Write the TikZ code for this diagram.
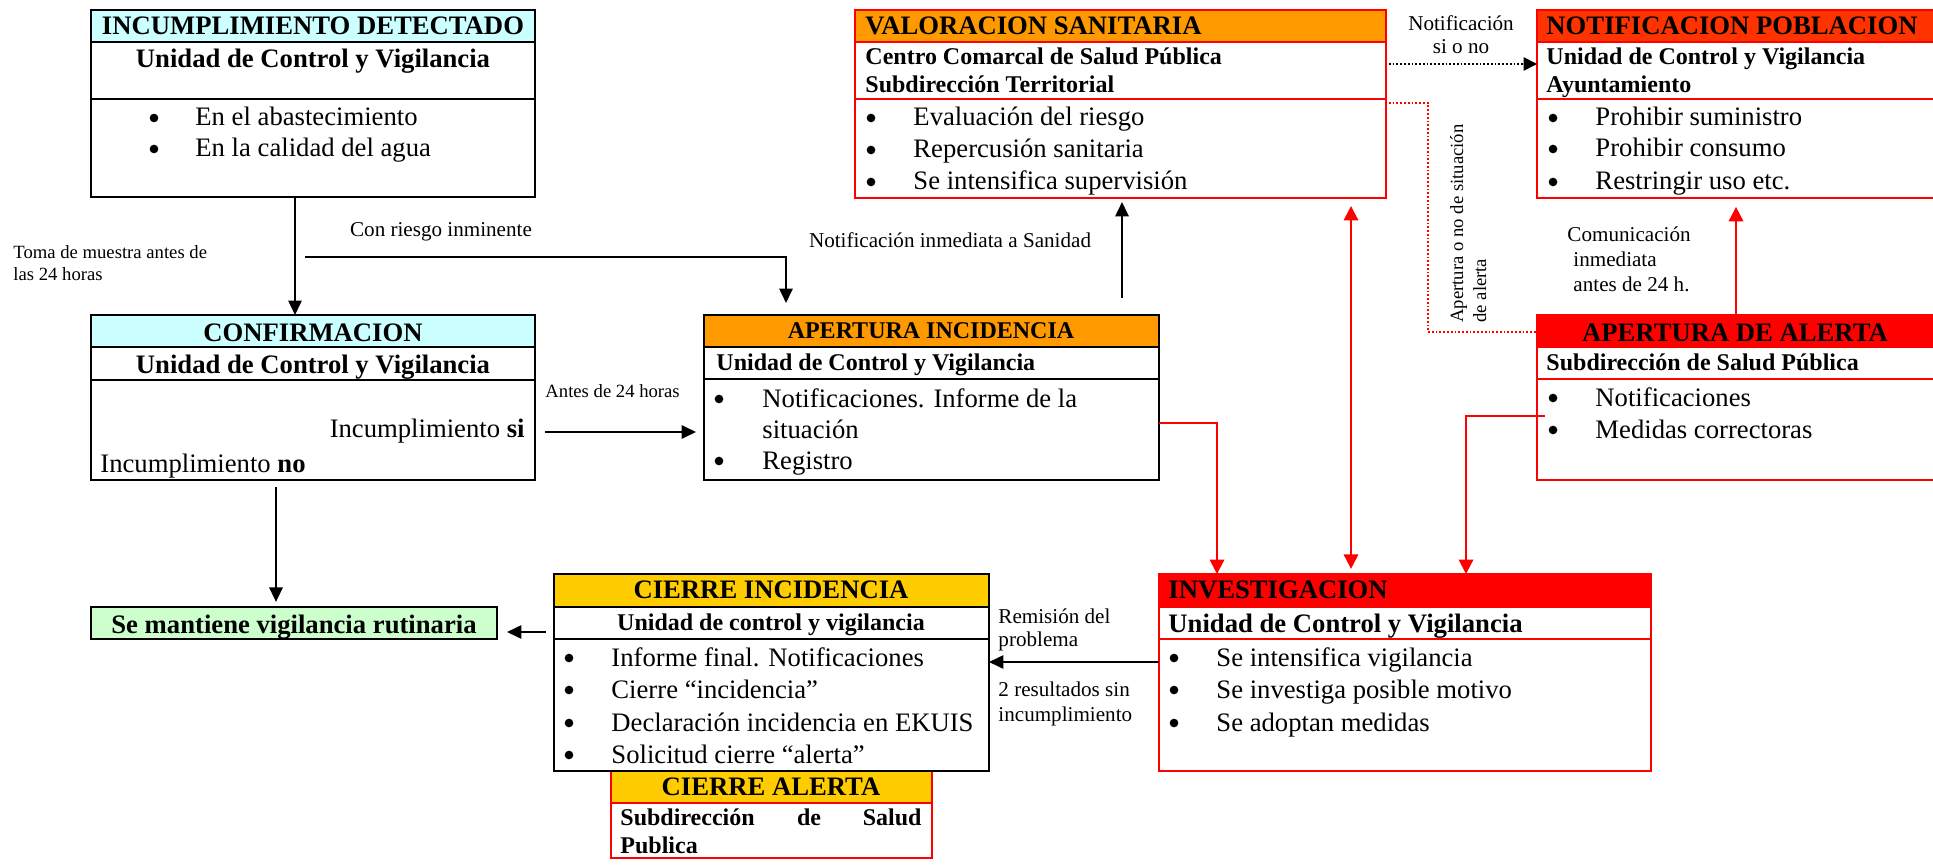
\documentclass[tikz,border=0pt]{standalone}
\usepackage{fontspec}
\setmainfont{Liberation Serif}
\usetikzlibrary{arrows.meta,fit}
\definecolor{hcyan}{RGB}{204,255,255}
\definecolor{hgreen}{RGB}{204,255,204}
\definecolor{horange}{RGB}{255,153,0}
\definecolor{hredor}{RGB}{255,51,0}
\definecolor{hred}{RGB}{255,0,0}
\definecolor{hyellow}{RGB}{255,204,0}
\newcommand{\bulitem}[5]{%
  \node[bulsty] (#1d) at (#2,#4-8) {};
  \node[body,anchor=base west] (#1) at (#3,#4) {#5};}
\begin{document}
\begin{tikzpicture}[x=0.45pt,y=-0.45pt,
  bl/.style={draw=black,line width=1.1pt},
  rl/.style={draw=hred,line width=1pt},
  bbox/.style={draw=black,line width=1.1pt,inner sep=0pt,outer sep=0pt},
  rbox/.style={draw=hred,line width=1pt,inner sep=0pt,outer sep=0pt},
  hd/.style={font=\fontsize{12}{14}\selectfont\bfseries,inner sep=0pt,anchor=base},
  hds/.style={font=\fontsize{10.8}{13}\selectfont\bfseries,inner sep=0pt,anchor=base},
  body/.style={font=\fontsize{12}{14}\selectfont,inner sep=0pt},
  bulsty/.style={circle,fill=black,inner sep=0pt,minimum size=3.9pt},
  lab/.style={font=\fontsize{9.5}{11}\selectfont,inner sep=0pt},
  labs/.style={font=\fontsize{8.4}{10}\selectfont,inner sep=0pt},
  arr/.style={draw=black,line width=0.9pt,-{Triangle[length=6.5pt,width=6pt]}},
  rarr/.style={draw=hred,line width=0.9pt,-{Triangle[length=6.5pt,width=6.5pt]}},
  dotarr/.style={draw=black,line width=0.7pt,dash pattern=on 0.8pt off 0.9pt,-{Triangle[length=6pt,width=6pt]}},
  reddot/.style={draw=hred,line width=0.7pt,dash pattern=on 0.8pt off 0.9pt}]
\fill[white] (0,0) rectangle (1933,865);
\useasboundingbox (0,0) rectangle (1933,865);
\clip (0,0) rectangle (1933,865);

% ---------- INCUMPLIMIENTO DETECTADO
\fill[hcyan] (91,10) rectangle (535,42);
\draw[bl] (91,42) -- (535,42) (91,99) -- (535,99);
\node[bbox,fit={(91,10) (535,197)}] (inc) {};
\node[hd] (inct) at (313,35) {INCUMPLIMIENTO DETECTADO};
\node[hd] (incs) at (313,68) {Unidad de Control y Vigilancia};
\bulitem{inca}{154}{195}{126}{En el abastecimiento}
\bulitem{incb}{154}{195}{157}{En la calidad del agua}

% ---------- CONFIRMACION
\fill[hcyan] (91,315) rectangle (535,347);
\draw[bl] (91,347) -- (535,347) (91,380) -- (535,380);
\node[bbox,fit={(91,315) (535,480)}] (conf) {};
\node[hd] (conft) at (313,342) {CONFIRMACION};
\node[hd] (confs) at (313,373) {Unidad de Control y Vigilancia};
\node[body,anchor=base east] (csi) at (525,437) {Incumplimiento \textbf{si}};
\node[body,anchor=base west] (cno) at (100,472) {Incumplimiento \textbf{no}};

% ---------- Se mantiene
\fill[hgreen] (91,607) rectangle (497,639);
\node[bbox,fit={(91,607) (497,639)}] (mant) {};
\node[hd] (mantt) at (294,633) {Se mantiene vigilancia rutinaria};

% ---------- APERTURA INCIDENCIA
\fill[horange] (704,315) rectangle (1159,347);
\draw[bl] (704,347) -- (1159,347) (704,379) -- (1159,379);
\node[bbox,fit={(704,315) (1159,480)}] (ai) {};
\node[hds] (ait) at (931,338) {APERTURA INCIDENCIA};
\node[hds,anchor=base west] (ais) at (716,370) {Unidad de Control y Vigilancia};
\bulitem{aia}{719}{762}{407}{Notificaciones. Informe de la}
\node[body,anchor=base west] (aia2) at (762,438) {situación};
\bulitem{aib}{719}{762}{469}{Registro}

% ---------- VALORACION SANITARIA
\fill[horange] (855,10) rectangle (1386,42);
\draw[rl] (855,42) -- (1386,42) (855,99) -- (1386,99);
\node[rbox,fit={(855,10) (1386,198)}] (vs) {};
\node[hd,anchor=base west] (vst) at (865,35) {VALORACION SANITARIA};
\node[hds,anchor=base west] (vss1) at (865,65) {Centro Comarcal de Salud Pública};
\node[hds,anchor=base west] (vss2) at (865,93) {Subdirección Territorial};
\bulitem{vsa}{871}{913}{126}{Evaluación del riesgo}
\bulitem{vsb}{871}{913}{158}{Repercusión sanitaria}
\bulitem{vsc}{871}{913}{190}{Se intensifica supervisión}

% ---------- NOTIFICACION POBLACION
\fill[hredor] (1537,10) rectangle (1945,42);
\draw[rl] (1537,42) -- (1945,42) (1537,99) -- (1945,99);
\node[rbox,fit={(1537,10) (1945,198)}] (notif) {};
\node[hd,anchor=base west] (nott) at (1546,35) {NOTIFICACION POBLACION};
\node[hds,anchor=base west] (nots1) at (1546,65) {Unidad de Control y Vigilancia};
\node[hds,anchor=base west] (nots2) at (1546,93) {Ayuntamiento};
\bulitem{nota}{1553}{1595}{126}{Prohibir suministro}
\bulitem{notb}{1553}{1595}{157}{Prohibir consumo}
\bulitem{notc}{1553}{1595}{190}{Restringir uso etc.}

% ---------- APERTURA DE ALERTA
\fill[hred] (1537,315) rectangle (1945,347);
\draw[rl] (1537,347) -- (1945,347) (1537,379) -- (1945,379);
\node[rbox,fit={(1537,315) (1945,480)}] (aa) {};
\node[hd] (aat) at (1735,342) {APERTURA DE ALERTA};
\node[hds,anchor=base west] (aas) at (1546,370) {Subdirección de Salud Pública};
\bulitem{aaa}{1553}{1595}{406}{Notificaciones}
\bulitem{aab}{1553}{1595}{438}{Medidas correctoras}

% ---------- INVESTIGACION
\fill[hred] (1159,574) rectangle (1651,607);
\draw[rl] (1159,607) -- (1651,607) (1159,639) -- (1651,639);
\node[rbox,fit={(1159,574) (1651,771)}] (inv) {};
\node[hd,anchor=base west] (invt) at (1168,598) {INVESTIGACION};
\node[hd,anchor=base west] (invs) at (1168,632) {Unidad de Control y Vigilancia};
\bulitem{inva}{1174}{1216}{666}{Se intensifica vigilancia}
\bulitem{invb}{1174}{1216}{698}{Se investiga posible motivo}
\bulitem{invc}{1174}{1216}{731}{Se adoptan medidas}

% ---------- CIERRE ALERTA
\fill[hyellow] (611,771) rectangle (932,803);
\draw[rl] (611,803) -- (932,803);
\node[rbox,fit={(611,771) (932,858)}] (ca) {};
\node[hd] (cat) at (771,795) {CIERRE ALERTA};
\node[hds,anchor=base west] (cas1) at (620,825) {Subdirección};
\node[hds] (cas2) at (809,825) {de};
\node[hds,anchor=base east] (cas3) at (922,825) {Salud};
\node[hds,anchor=base west] (cas4) at (620,853) {Publica};

% ---------- CIERRE INCIDENCIA
\fill[hyellow] (554,574) rectangle (989,607);
\draw[bl] (554,607) -- (989,607) (554,639) -- (989,639);
\node[bbox,fit={(554,574) (989,771)}] (ci) {};
\node[hd] (cit) at (771,598) {CIERRE INCIDENCIA};
\node[hds] (cis) at (771,630) {Unidad de control y vigilancia};
\bulitem{cia}{569}{611}{666}{Informe final. Notificaciones}
\bulitem{cib}{569}{611}{698}{Cierre “incidencia”}
\bulitem{cic}{569}{611}{731}{Declaración incidencia en EKUIS}
\bulitem{cid}{569}{611}{763}{Solicitud cierre “alerta”}

% ---------- connectors
\coordinate (rs) at (305,257);
\coordinate (dk1) at (1428,103);
\coordinate (dk2) at (1428,332);
\draw[arr] (inc.south -| 295,0) -- (conf.north -| 295,0);
\draw[arr,shorten >=5.4pt] (rs) -| (ai.north -| 786,0);
\draw[arr,shorten <=4.5pt,shorten >=3.6pt] (conf.east |- 0,432) -- (ai.west |- 0,432);
\draw[arr,shorten <=3.2pt,shorten >=2.3pt] (conf.south -| 276,0) -- (mant.north -| 276,0);
\draw[arr,shorten <=3.6pt,shorten >=4.5pt] (ci.west |- 0,632) -- (mant.east |- 0,632);
\draw[arr,shorten <=7.7pt,shorten >=1.8pt] (ai.north -| 1122,0) -- (vs.south -| 1122,0);
\draw[dotarr,shorten <=1.3pt] (vs.east |- 0,64) -- (notif.west |- 0,64);
\draw[reddot,shorten <=1.3pt] (vs.east |- 0,103) -- (dk1) -- (dk2) -- (aa.west |- 0,332);
\draw[rarr,shorten >=4pt] (aa.north -| 1736,0) -- (notif.south -| 1736,0);
\draw[rarr,{Triangle[length=6.5pt,width=6.5pt]}-{Triangle[length=6.5pt,width=6.5pt]},shorten <=3.6pt,shorten >=2.3pt] (vs.south -| 1351,0) -- (inv.north -| 1351,0);
\draw[rarr] (ai.east |- 0,423) -| (inv.north -| 1217,0);
\draw[rarr,shorten <=-3.6pt] (aa.west |- 0,416) -| (inv.north -| 1466,0);
\draw[arr] (inv.west |- 0,662) -- (ci.east |- 0,662);

% ---------- labels
\node[labs,anchor=base west] (tm1) at (13,259) {Toma de muestra antes de};
\node[labs,anchor=base west] (tm2) at (13,281) {las 24 horas};
\node[lab,anchor=base] (cri) at (441,237) {Con riesgo inminente};
\node[labs,anchor=base west] (a24) at (545,397) {Antes de 24 horas};
\node[lab,anchor=base] (nis) at (950,248) {Notificación inmediata a Sanidad};
\node[lab,anchor=base] (nsn1) at (1461,31) {Notificación};
\node[lab,anchor=base] (nsn2) at (1461,54) {si o no};
\node[labs,rotate=90,anchor=base west] (ap1) at (1463,323) {Apertura o no de situación};
\node[labs,rotate=90,anchor=base west] (ap2) at (1486,323) {de alerta};
\node[lab,anchor=base west] (com1) at (1567,242) {Comunicación};
\node[lab,anchor=base west] (com2) at (1573,267) {inmediata};
\node[lab,anchor=base west] (com3) at (1573,292) {antes de 24 h.};
\node[lab,anchor=base west] (rem1) at (998,623) {Remisión del};
\node[lab,anchor=base west] (rem2) at (998,646) {problema};
\node[lab,anchor=base west] (res1) at (998,696) {2 resultados sin};
\node[lab,anchor=base west] (res2) at (998,721) {incumplimiento};
\end{tikzpicture}
\end{document}
